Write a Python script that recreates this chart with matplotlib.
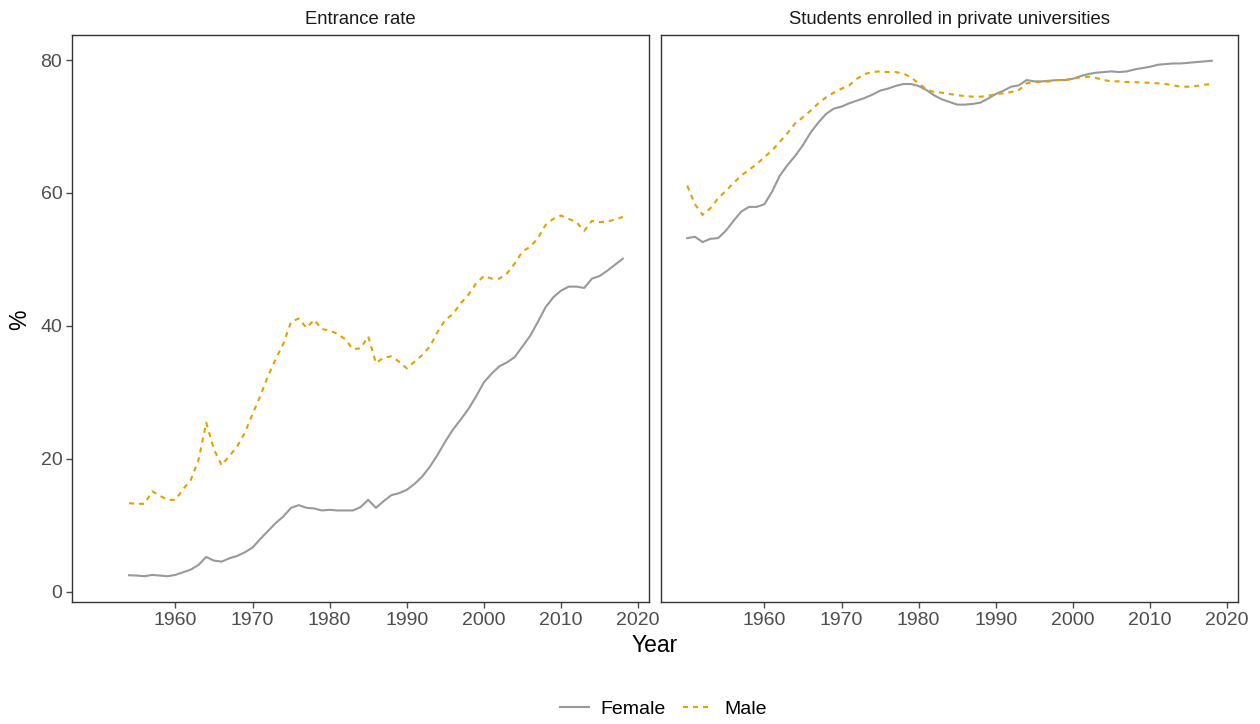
import numpy as np
import matplotlib
matplotlib.use("Agg")
import matplotlib.pyplot as plt
from matplotlib.lines import Line2D

plt.rcParams['font.family'] = ['Liberation Sans', 'DejaVu Sans']

# entrance rate, 1954-2018
entr_years = list(range(1954, 2019))
entr_female = [2.45, 2.4, 2.3, 2.5, 2.4, 2.3, 2.5, 2.9, 3.3, 4.0, 5.2, 4.65, 4.5, 5.0, 5.35, 5.9,
               6.6, 7.9, 9.1, 10.3, 11.3, 12.6, 13.0, 12.6, 12.5, 12.2, 12.3, 12.2, 12.2, 12.2, 12.7,
               13.8, 12.6, 13.6, 14.5, 14.8, 15.3, 16.2, 17.3, 18.8, 20.6, 22.6, 24.4, 25.9, 27.5,
               29.4, 31.5, 32.8, 33.9, 34.5, 35.3, 36.9, 38.5, 40.6, 42.8, 44.3, 45.3, 45.9, 45.9,
               45.7, 47.1, 47.5, 48.3, 49.2, 50.1]
entr_male = [13.3, 13.2, 13.2, 15.1, 14.4, 13.8, 13.8, 15.4, 16.8, 19.8, 25.4, 21.4, 19.0, 20.4,
             21.8, 23.9, 26.7, 29.4, 32.4, 35.0, 37.3, 40.6, 41.1, 39.7, 40.9, 39.5, 39.3, 38.8,
             38.0, 36.5, 36.6, 38.4, 34.4, 35.2, 35.4, 34.6, 33.6, 34.6, 35.6, 36.9, 39.1, 40.9,
             41.8, 43.4, 44.7, 46.4, 47.5, 47.1, 47.1, 47.9, 49.4, 51.2, 51.9, 53.2, 55.2, 56.1,
             56.6, 56.1, 55.6, 54.3, 55.8, 55.6, 55.7, 56.0, 56.4]

# students enrolled in private universities, 1950-2018
priv_years = list(range(1950, 2019))
priv_female = [53.2, 53.4, 52.6, 53.1, 53.2, 54.3, 55.8, 57.2, 57.9, 57.9, 58.3, 60.2, 62.6, 64.2,
               65.6, 67.2, 69.1, 70.6, 71.9, 72.7, 73.0, 73.5, 73.9, 74.3, 74.8, 75.4, 75.7, 76.1,
               76.4, 76.4, 76.1, 75.5, 74.7, 74.1, 73.7, 73.3, 73.3, 73.4, 73.6, 74.2, 74.9, 75.4,
               76.0, 76.2, 77.0, 76.8, 76.8, 76.9, 77.0, 77.0, 77.2, 77.6, 77.9, 78.1, 78.2, 78.3,
               78.2, 78.3, 78.6, 78.8, 79.0, 79.3, 79.4, 79.5, 79.5, 79.6, 79.7, 79.8, 79.9]
priv_male = [61.1, 58.3, 56.7, 57.7, 59.2, 60.3, 61.5, 62.6, 63.5, 64.3, 65.4, 66.4, 67.7, 69.0,
             70.5, 71.4, 72.4, 73.5, 74.4, 75.1, 75.7, 76.2, 77.2, 77.9, 78.2, 78.3, 78.2, 78.2,
             78.0, 77.4, 76.5, 75.6, 75.2, 75.1, 74.9, 74.7, 74.6, 74.5, 74.5, 74.6, 74.9, 75.0,
             75.2, 75.5, 76.5, 76.7, 76.7, 76.8, 77.0, 77.0, 77.2, 77.4, 77.5, 77.3, 77.0, 76.8,
             76.8, 76.7, 76.7, 76.6, 76.6, 76.5, 76.4, 76.2, 76.0, 76.0, 76.1, 76.3, 76.4]

panel_titles = ['Entrance rate', 'Students enrolled in private universities']
x_ticks = [1960, 1970, 1980, 1990, 2000, 2010, 2020]
y_ticks = [0, 20, 40, 60, 80]

col_f = '#999999'
col_m = '#E69F00'
dash = (0, (2.4, 2.4))
axis_col = '#4D4D4D'

fig = plt.figure(figsize=(12.6, 7.24), dpi=100)
W, H = 1260, 724
ax1 = fig.add_axes([72 / W, 1 - 602 / H, (649 - 72) / W, (602 - 35) / H])
ax2 = fig.add_axes([661 / W, 1 - 602 / H, (1238 - 661) / W, (602 - 35) / H])

data = [(entr_years, entr_female, entr_male), (priv_years, priv_female, priv_male)]
for i, (ax, (yrs, fem, mal)) in enumerate(zip([ax1, ax2], data)):
    ax.plot(yrs, fem, color=col_f, lw=1.5)
    ax.plot(yrs, mal, color=col_m, lw=1.5, linestyle=dash)
    ax.set_xlim(1946.6, 2021.4)
    ax.set_ylim(-1.58, 83.78)
    ax.set_xticks(x_ticks)
    ax.set_yticks(y_ticks)
    for s in ax.spines.values():
        s.set_color('#333333')
        s.set_linewidth(1.0)
    ax.tick_params(axis='both', colors=axis_col, labelsize=14, length=4, width=1, pad=3.0)
    # facet strip label
    ax.text(0.5, 1 + 16 / 567, panel_titles[i], transform=ax.transAxes, ha='center',
            va='center', fontsize=13.3, color='#1A1A1A')
    if i == 1:
        ax.tick_params(axis='y', left=False, labelleft=False)

fig.text(655 / W, 1 - 645 / H, 'Year', ha='center', va='center', fontsize=16.5)
fig.text(20 / W, 1 - 320 / H, '%', ha='center', va='center', fontsize=16.5, rotation=90)

handles = [Line2D([], [], color=col_f, lw=1.5),
           Line2D([], [], color=col_m, lw=1.5, linestyle=dash)]
fig.legend(handles, ['Female', 'Male'], loc='center', bbox_to_anchor=(663 / W, 1 - 709 / H),
           ncol=2, frameon=False, fontsize=14, handlelength=1.5, columnspacing=0.9,
           handletextpad=0.6)

fig.savefig('out.png', dpi=100)
